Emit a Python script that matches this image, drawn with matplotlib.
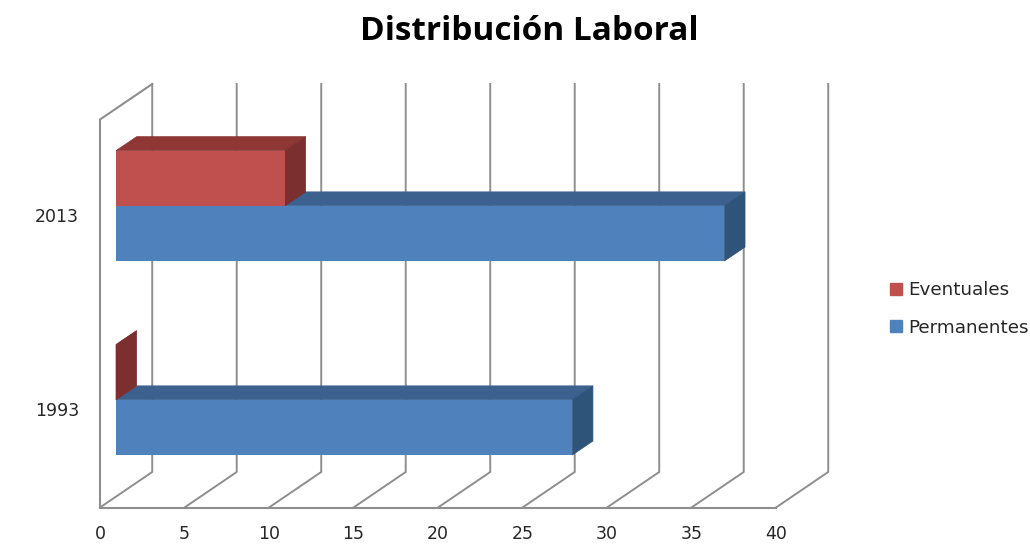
import numpy as np
import matplotlib
matplotlib.use('Agg')
import matplotlib.pyplot as plt
from matplotlib.patches import Polygon, Patch

# Data
years = ['1993', '2013']
permanentes = [27, 36]
eventuales = [0, 10]
x_ticks = [0, 5, 10, 15, 20, 25, 30, 35, 40]

# Colours (front, top, side)
blue = ('#4F81BD', '#3C618F', '#2F5479')
red = ('#C0504D', '#8E3735', '#7B2F2E')
line_color = '#8E8E8E'
text_color = '#262626'

# Fake 3D offsets, in data units (x value, category)
wall_dx, wall_dy = 3.09, 0.183
bar_dx, bar_dy = 0.947, 0.055
depth_dx, depth_dy = 1.22, 0.072
bar_h = 0.2845

plt.rcParams['font.family'] = ['DejaVu Sans']

fig = plt.figure(figsize=(10.3, 5.55), dpi=100)
ax = fig.add_axes([100 / 1030, (555 - 507.5) / 555, 676 / 1030, 388 / 555])
ax.set_xlim(0, 40)
ax.set_ylim(0, 2)
for s in ax.spines.values():
    s.set_visible(False)


def draw_bar(values, centers, colors, z):
    for v, c in zip(values, centers):
        # top face
        ax.add_patch(Polygon([(bar_dx, c + bar_h), (bar_dx + v, c + bar_h),
                              (bar_dx + v + depth_dx, c + bar_h + depth_dy),
                              (bar_dx + depth_dx, c + bar_h + depth_dy)],
                             fc=colors[1], ec=colors[1], lw=0.5, zorder=z, clip_on=False))
        # side face
        ax.add_patch(Polygon([(bar_dx + v, c), (bar_dx + v, c + bar_h),
                              (bar_dx + v + depth_dx, c + bar_h + depth_dy),
                              (bar_dx + v + depth_dx, c + depth_dy)],
                             fc=colors[2], ec=colors[2], lw=0.5, zorder=z, clip_on=False))
    ax.barh(centers, values, height=bar_h, left=bar_dx, align='edge',
            color=colors[0], lw=0, zorder=z + 0.5)


# Walls and floor
ax.plot([0, 0, wall_dx], [0, 2, 2 + wall_dy], color=line_color, lw=1.5,
        zorder=1, clip_on=False)
ax.plot([0, 40], [0, 0], color=line_color, lw=1.5, zorder=1, clip_on=False)
for t in x_ticks:
    ax.plot([t, t + wall_dx, t + wall_dx], [0, wall_dy, 2 + wall_dy],
            color=line_color, lw=1.4, zorder=1, clip_on=False)

cats = np.arange(len(years)) + 0.5
draw_bar(permanentes, cats + bar_dy - bar_h, blue, 2)
draw_bar(eventuales, cats + bar_dy, red, 3)

ax.set_xticks(x_ticks)
ax.set_xticklabels([str(t) for t in x_ticks], fontsize=12.5, color=text_color)
ax.set_yticks(cats + 0.008)
ax.set_yticklabels(years, fontsize=12.5, color=text_color)
ax.tick_params(axis='both', length=0)
ax.tick_params(axis='x', pad=12.5)
ax.tick_params(axis='y', pad=15)

fig.text(529.5 / 1030, 1 - 32 / 555, 'Distribución Laboral', ha='center',
         va='center', fontsize=24, fontweight='bold', color='black',
         family=['Open Sans', 'DejaVu Sans'])

handles = [Patch(color=red[0], label='Eventuales'),
           Patch(color=blue[0], label='Permanentes')]
fig.legend(handles=handles, loc='center left',
           bbox_to_anchor=(890 / 1030, 1 - 309 / 555), frameon=False,
           fontsize=13.2, labelcolor=text_color, handlelength=0.65,
           handleheight=0.65, handletextpad=0.33, labelspacing=1.05,
           borderpad=0, borderaxespad=0)

fig.savefig('out.png', dpi=100)
plt.close()
